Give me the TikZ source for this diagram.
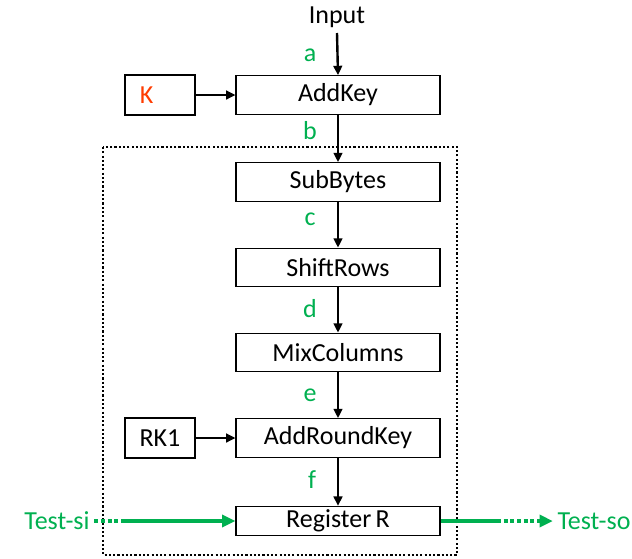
\documentclass[tikz,border=0pt]{standalone}
\usepackage{fontspec}
\setmainfont{Carlito}
\usetikzlibrary{arrows.meta}
\definecolor{testgreen}{RGB}{0,176,80}
\definecolor{keyred}{RGB}{255,60,0}
\tikzset{
  stage/.style={draw, line width=0.8pt, minimum width=153pt, minimum height=29pt, inner sep=0pt},
  keybox/.style={draw, line width=0.8pt, minimum width=52.5pt, minimum height=30pt, inner sep=0pt},
  flow/.style={line width=1.8pt, -{Triangle[length=7pt, width=6.5pt]}},
  lbl/.style={text=testgreen},
  testline/.style={testgreen, line width=3pt},
}
\begin{document}
\begin{tikzpicture}[x=0.75pt, y=-0.75pt, font=\fontsize{19.5}{23}\selectfont]
    \useasboundingbox (0,0) rectangle (632,558);

    % Rundenblock
    \draw[line width=1.6pt, dash pattern=on 1.6pt off 1.6pt] (103,147) rectangle (457,555);

    % Stufen
    \node[stage] (addkey) at (338,95) {AddKey};
    \node[keybox] (k) at (160,95) {\textcolor{keyred}{K}\kern20pt};
    \node[stage] (sub) at (338,182) {SubBytes};
    \node[stage] (shift) at (338,267.5) {ShiftRows};
    \node[stage] (mix) at (338,352.5) {MixColumns};
    \node[stage] (ark) at (338,438) {AddRoundKey};
    \node[keybox] (rk) at (160,438) {RK1};
    \node[stage, minimum height=22pt] (reg) at (338,521) {Register\,R};

    % Eingang
    \node (in) at (337,17) {Input};
    \coordinate (inend) at (337,33);

    % Pfeile
    \draw[flow] (inend) -- (addkey.north);
    \draw[flow] (k) -- (addkey);
    \draw[flow] (addkey) -- (sub);
    \draw[flow] (sub) -- (shift);
    \draw[flow] (shift) -- (mix);
    \draw[flow] (mix) -- (ark);
    \draw[flow] (rk) -- (ark);
    \draw[flow] (ark) -- (reg);

    % Beschriftungen
    \node[lbl] (la) at (310,55) {a};
    \node[lbl] (lb) at (310,131) {b};
    \node[lbl] (lc) at (310,219) {c};
    \node[lbl] (ld) at (310,309) {d};
    \node[lbl] (le) at (310,395) {e};
    \node[lbl] (lf) at (312,480) {f};

    % Scan-Pfad
    \node[lbl] (tsi) at (57,521) {Test-si};
    \node[lbl] (tso) at (594,521) {Test-so};
    \coordinate (si1) at (122,521);
    \coordinate (so1) at (497,521);
    \draw[testline, dotted] (tsi.east) -- (si1);
    \draw[testline, -{Triangle[length=10pt, width=9pt]}] (si1) -- (reg.west);
    \draw[testline] (reg.east) -- (so1);
    \draw[testline, dotted, -{Triangle[length=10pt, width=9pt]}] (so1) -- (tso.west);

\end{tikzpicture}
\end{document}
